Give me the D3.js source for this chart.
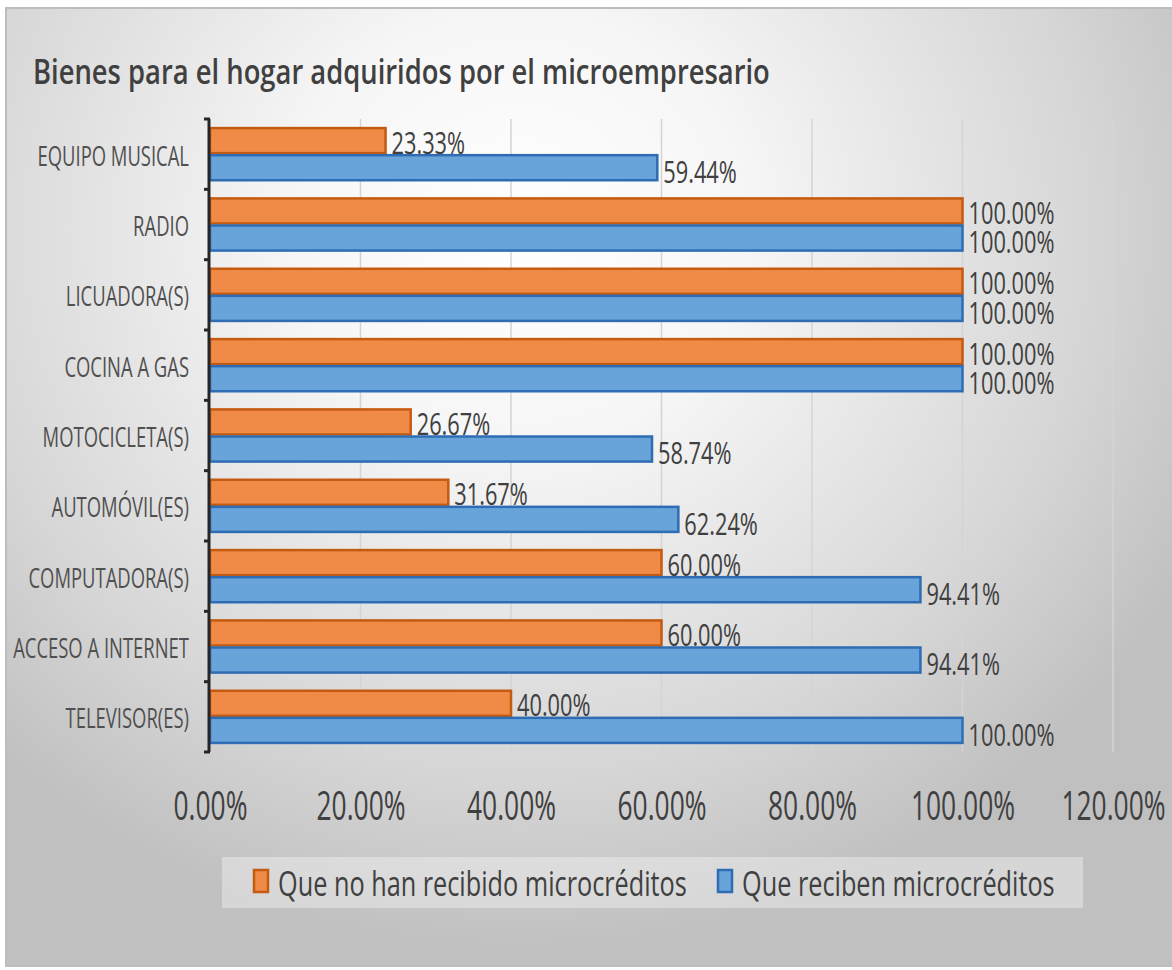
<!DOCTYPE html>
<html>
<head>
<meta charset="utf-8">
<script src="https://cdn.jsdelivr.net/npm/d3@7"></script>
<style>
  html, body { margin: 0; padding: 0; background: #ffffff; }
  svg text { font-family: "Open Sans", "Noto Sans", sans-serif; }
</style>
</head>
<body>
<svg id="chart" width="1172" height="970"></svg>
<script>
// ---------------- DATA ----------------
const title = "Bienes para el hogar adquiridos por el microempresario";
const categories = ["EQUIPO MUSICAL", "RADIO", "LICUADORA(S)", "COCINA A GAS", "MOTOCICLETA(S)",
                    "AUTOMÓVIL(ES)", "COMPUTADORA(S)", "ACCESO A INTERNET", "TELEVISOR(ES)"];
const seriesNames = ["Que no han recibido microcréditos", "Que reciben microcréditos"];
const noRecibenValues = [0.2333, 1.0, 1.0, 1.0, 0.2667, 0.3167, 0.60, 0.60, 0.40];
const recibenValues   = [0.5944, 1.0, 1.0, 1.0, 0.5874, 0.6224, 0.9441, 0.9441, 1.0];
const xTickValues = [0, 0.2, 0.4, 0.6, 0.8, 1.0, 1.2];

// ---------------- LAYOUT ----------------
const svg = d3.select("#chart");
const W = 1172, H = 970;
const plot = { left: 210, right: 1113, top: 119, bottom: 752 };
const colors = {
  fill: ["#ef8b47", "#68a3da"],
  stroke: ["#c55a11", "#2e6db3"]
};

// background
const defs = svg.append("defs");
const grad = defs.append("radialGradient")
  .attr("id", "bg").attr("gradientUnits", "userSpaceOnUse")
  .attr("cx", 520).attr("cy", 230).attr("r", 760)
  .attr("gradientTransform", "translate(520,230) scale(1,0.95) translate(-520,-230)");
grad.append("stop").attr("offset", "0").attr("stop-color", "#ffffff");
grad.append("stop").attr("offset", "0.3").attr("stop-color", "#f6f6f6");
grad.append("stop").attr("offset", "0.75").attr("stop-color", "#d6d6d6");
grad.append("stop").attr("offset", "1").attr("stop-color", "#c0c0c0");

svg.append("rect").attr("x", 6).attr("y", 8).attr("width", W - 4).attr("height", 958)
  .attr("fill", "url(#bg)").attr("stroke", "#bdbdbd").attr("stroke-width", 2);

// text squeeze helper: measure natural width and scale horizontally
function measure(str, size, weight) {
  const t = svg.append("text").attr("font-size", size).attr("font-weight", weight).text(str);
  const w = t.node().getComputedTextLength();
  t.remove();
  return w;
}
const sz = { title: 34, cat: 28, tick: 41, val: 31, leg: 35 };
const fTitle = 737 / measure(title, sz.title, 600);
const fCat = 176 / measure("ACCESO A INTERNET", sz.cat, 400);
const fTick = 74 / measure("0.00%", sz.tick, 400);
const fVal = 86 / measure("100.00%", sz.val, 400);
const fLeg = 409 / measure(seriesNames[0], sz.leg, 400);

// scales
const x = d3.scaleLinear().domain([0, 1.2]).range([plot.left, plot.right]);
const y = d3.scaleBand().domain(categories).range([plot.top, plot.bottom])
  .paddingInner(0.23).paddingOuter(0.115);
const ySub = d3.scaleBand().domain([0, 1]).range([0, y.bandwidth()]);

// title
svg.append("text")
  .attr("transform", `translate(33,84) scale(${fTitle},1)`)
  .attr("font-size", sz.title).attr("font-weight", 600).attr("fill", "#404040")
  .text(title);

// gridlines
svg.append("g").selectAll("line").data(xTickValues.filter(d => d > 0)).join("line")
  .attr("x1", d => x(d)).attr("x2", d => x(d))
  .attr("y1", plot.top).attr("y2", plot.bottom)
  .attr("stroke", "#d4d4d4").attr("stroke-width", 1.5);

// bars
const seriesData = [noRecibenValues, recibenValues];
const groups = svg.append("g").selectAll("g").data(categories).join("g")
  .attr("transform", d => `translate(0,${y(d)})`);

seriesData.forEach((vals, si) => {
  groups.append("rect")
    .attr("x", x(0))
    .attr("y", ySub(si) + 1)
    .attr("width", (d, i) => x(vals[i]) - x(0))
    .attr("height", ySub.bandwidth() - 2)
    .attr("fill", colors.fill[si])
    .attr("stroke", colors.stroke[si])
    .attr("stroke-width", 2.5);
});
const labelDy = [1, 3];
seriesData.forEach((vals, si) => {
  groups.append("text")
    .attr("transform", (d, i) => `translate(${x(vals[i]) + 6},${ySub(si) + ySub.bandwidth() / 2 + labelDy[si]}) scale(${fVal},1)`)
    .attr("dominant-baseline", "central")
    .attr("font-size", sz.val).attr("fill", "#404040")
    .text((d, i) => d3.format(".2%")(vals[i]));
});

// y axis line and boundary ticks
const yAxisG = svg.append("g");
yAxisG.append("line").attr("x1", plot.left - 1).attr("x2", plot.left - 1)
  .attr("y1", plot.top).attr("y2", plot.bottom)
  .attr("stroke", "#262626").attr("stroke-width", 3);
const boundaries = categories.map(c => y(c) - y.step() * y.paddingInner() / 2)
  .concat([plot.bottom]);
yAxisG.selectAll("line.tick").data(boundaries).join("line").attr("class", "tick")
  .attr("x1", plot.left - 6).attr("x2", plot.left)
  .attr("y1", d => d).attr("y2", d => d)
  .attr("stroke", "#262626").attr("stroke-width", 3);

// category labels
const yLab = svg.append("g").attr("transform", `translate(${plot.left},0)`)
  .call(d3.axisLeft(y).tickSize(0).tickPadding(0));
yLab.select(".domain").remove();
yLab.selectAll("text")
  .attr("x", 0).attr("dy", null)
  .attr("dominant-baseline", "central")
  .attr("transform", `translate(-21,1) scale(${fCat},1)`)
  .attr("font-size", sz.cat).attr("font-family", null).attr("fill", "#505050");

// x axis tick labels
const xAx = svg.append("g").attr("transform", `translate(0,${plot.bottom})`)
  .call(d3.axisBottom(x).tickValues(xTickValues).tickFormat(d3.format(".2%")).tickSize(0).tickPadding(0));
xAx.select(".domain").remove();
xAx.selectAll("text")
  .attr("y", 0).attr("dy", null)
  .attr("dominant-baseline", "central")
  .attr("transform", `translate(0,52) scale(${fTick},1)`)
  .attr("font-size", sz.tick).attr("font-family", null).attr("fill", "#404040");

// legend
const leg = svg.append("g");
leg.append("rect").attr("x", 222).attr("y", 857).attr("width", 861).attr("height", 51)
  .attr("fill", "#ffffff").attr("fill-opacity", 0.35);
const legX = [253, 717];
seriesNames.forEach((name, i) => {
  leg.append("rect").attr("x", legX[i] + 1).attr("y", 870).attr("width", 14).attr("height", 22)
    .attr("fill", colors.fill[i]).attr("stroke", colors.stroke[i]).attr("stroke-width", 2.5);
  leg.append("text")
    .attr("transform", `translate(${legX[i] + 25},882) scale(${fLeg},1)`)
    .attr("dominant-baseline", "central")
    .attr("font-size", sz.leg).attr("fill", "#404040")
    .text(name);
});
</script>
</body>
</html>
